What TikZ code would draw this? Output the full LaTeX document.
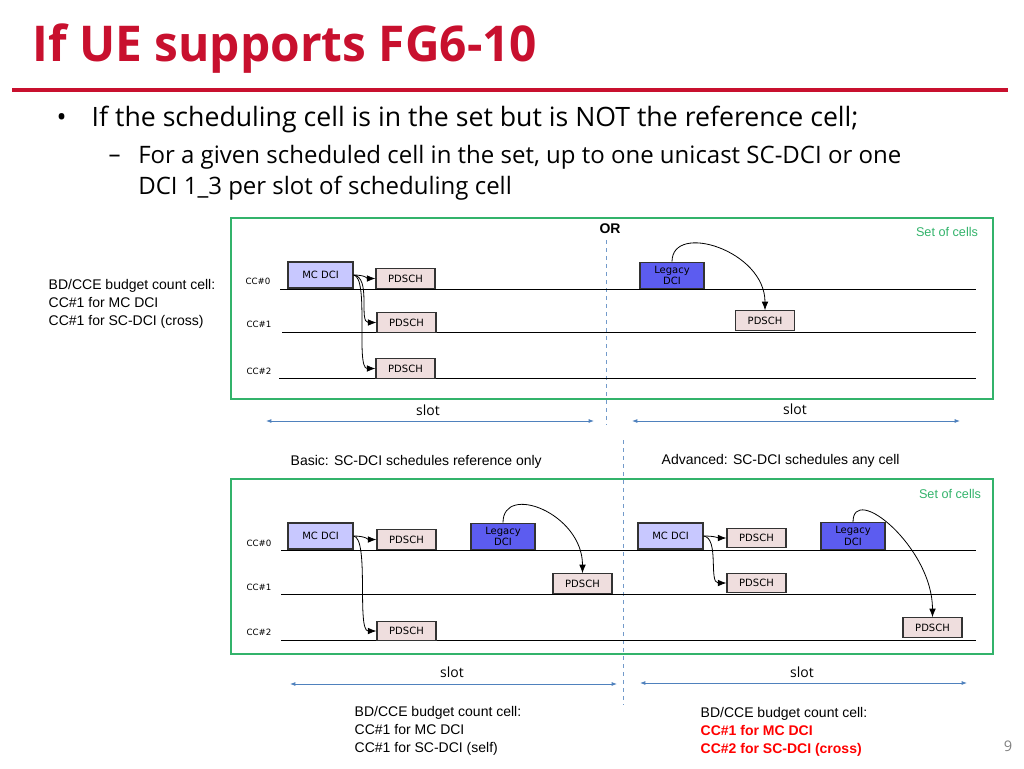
\documentclass[tikz,border=0pt]{standalone}
\usepackage{fontspec}
\setmainfont{Open Sans}
\newfontfamily\arialf{Liberation Sans}
\newfontfamily\verd{DejaVu Sans}
\usetikzlibrary{arrows.meta}
\definecolor{titred}{HTML}{C8102E}
\definecolor{grn}{HTML}{33B36B}
\definecolor{slotb}{HTML}{4F81BD}
\definecolor{mcc}{HTML}{C8C8FF}
\definecolor{legc}{HTML}{5C5CF0}
\definecolor{pdc}{HTML}{EFDEDE}
\tikzset{
 box/.style={draw=black!80,line width=0.8pt,inner sep=0pt,font=\verd\fontsize{7.5}{8.5}\selectfont,align=center},
 mc/.style={box,fill=mcc,minimum width=48.75pt,minimum height=19.5pt},
 leg/.style={box,fill=legc,minimum width=48pt,minimum height=20pt},
 pd/.style={box,fill=pdc,minimum width=44.25pt,minimum height=14.5pt},
 cc/.style={font=\verd\fontsize{6.5}{7}\selectfont},
 tl/.style={line width=0.6pt},
 arr/.style={-{Latex[length=6.5pt,width=5pt]},line width=0.6pt},
 slota/.style={{Latex[length=4pt,width=3pt]}-{Latex[length=4pt,width=3pt]},slotb,line width=0.7pt},
 lbl/.style={font=\arialf\fontsize{10.5}{12.5}\selectfont,anchor=west},
 setc/.style={grn,line width=1pt},
 dsh/.style={slotb!80,dashed,line width=0.7pt}
}
\begin{document}
\begin{tikzpicture}[x=0.75pt,y=-0.75pt]
\useasboundingbox (0,0) rectangle (1024,768);
\node[anchor=west,titred,font=\fontsize{37}{40}\bfseries\selectfont,xscale=0.97] (title) at (28,49) {If UE supports FG6-10};
\draw[titred,line width=3pt] (12,90) -- (1008,90);
\node[anchor=west,font=\fontsize{20}{15}\selectfont] (b1) at (52,120) {\textbullet};
\node[anchor=west,font=\fontsize{20}{24}\selectfont] (t1) at (87,119) {If the scheduling cell is in the set but is NOT the reference cell;};
\node[anchor=west,font=\fontsize{18}{22}\selectfont] (d1) at (104,159) {--};
\node[anchor=north west,align=left,font=\fontsize{18}{23}\selectfont,inner sep=0pt] (t2) at (138,145) {For a given scheduled cell in the set, up to one unicast SC-DCI or one\\DCI 1\_3 per slot of scheduling cell};
% top panel
\draw[setc] (231,218) rectangle (993,399);
\node[grn,font=\arialf\fontsize{9.5}{11}\selectfont] (s1) at (947,232) {Set of cells};
\node[font=\arialf\bfseries\fontsize{10.5}{12}\selectfont] (or) at (610,229) {OR};
\draw[dsh] (606,240) -- (606,425);
\draw[tl] (280,289) -- (976,289);
\draw[tl] (282,332) -- (976,332);
\draw[tl] (279,378) -- (976,378);
\node[cc] (c0) at (258,281) {CC\#0};
\node[cc] (c1) at (259,324) {CC\#1};
\node[cc] (c2) at (259,371) {CC\#2};
\node[mc] (m1) at (320.5,275) {MC DCI};
\node[pd] (p10) at (405.5,278.5) {PDSCH};
\node[pd] (p11) at (406.5,322.5) {PDSCH};
\node[pd] (p12) at (405.5,368.5) {PDSCH};
\node[leg] (l1) at (672,275.5) {Legacy\\DCI};
\node[pd] (p13) at (765,320.5) {PDSCH};
\draw[arr] (m1.east) .. controls +(12,0) and +(-8,0) .. (p10.west);
\draw[arr] (m1.east) .. controls +(18,2) and +(-18,0) .. (p11.west);
\draw[arr] (m1.east) .. controls +(16,2) and +(-20,0) .. (p12.west);
\draw[arr] (l1.north) .. controls +(0,-40) and +(0,-60) .. (p13.north);
\node[lbl,align=left,anchor=north west,font=\arialf\fontsize{10.5}{13.3}\selectfont] (bl1) at (44,275) {BD/CCE budget count cell:\\CC\#1 for MC DCI\\CC\#1 for SC-DCI (cross)};
\coordinate (sa1) at (266,421); \coordinate (sb1) at (594,421);
\coordinate (sa2) at (632,421); \coordinate (sb2) at (960,421);
\draw[slota] (sa1) -- (sb1); \draw[slota] (sa2) -- (sb2);
\node[font=\fontsize{10.5}{12}\selectfont] (sl1) at (428,410) {slot};
\node[font=\fontsize{10.5}{12}\selectfont] (sl2) at (795,409) {slot};
% bottom
\node[lbl] (basic) at (286,462) {Basic: SC-DCI schedules reference only};
\node[lbl] (adv) at (657,461) {Advanced: SC-DCI schedules any cell};
\draw[dsh] (623,440) -- (623,705);
\draw[setc] (231,479) rectangle (993,654);
\node[grn,font=\arialf\fontsize{9.5}{11}\selectfont] (s2) at (950,494) {Set of cells};
\draw[tl] (281,550) -- (976,550);
\draw[tl] (281,594) -- (976,594);
\draw[tl] (281,640) -- (976,640);
\node[cc] (d0) at (259,543) {CC\#0};
\node[cc] (d1c) at (259,587) {CC\#1};
\node[cc] (d2) at (259,632) {CC\#2};
\node[mc] (m2) at (320.5,536) {MC DCI};
\node[pd] (q0) at (406.5,539.5) {PDSCH};
\node[pd] (q2) at (406.5,631) {PDSCH};
\node[leg] (l2) at (503,536.5) {Legacy\\DCI};
\node[pd] (q1) at (582.5,583.5) {PDSCH};
\draw[arr] (m2.east) .. controls +(12,0) and +(-8,0) .. (q0.west);
\draw[arr] (m2.east) .. controls +(16,2) and +(-20,0) .. (q2.west);
\draw[arr] (l2.north) .. controls +(0,-40) and +(0,-60) .. (q1.north);
\node[mc] (m3) at (670.5,536) {MC DCI};
\node[pd] (r0) at (756.5,538) {PDSCH};
\node[pd] (r1) at (756.5,583) {PDSCH};
\node[leg] (l3) at (853,536) {Legacy\\DCI};
\node[pd] (r2) at (932.5,627.5) {PDSCH};
\draw[arr] (m3.east) .. controls +(12,0) and +(-8,0) .. (r0.west);
\draw[arr] (m3.east) .. controls +(16,2) and +(-18,0) .. (r1.west);
\draw[arr] (l3.north) .. controls +(0,-40) and +(0,-70) .. (r2.north);
\coordinate (ta1) at (290,684); \coordinate (tb1) at (617,684);
\coordinate (ta2) at (640,683); \coordinate (tb2) at (967,683);
\draw[slota] (ta1) -- (tb1); \draw[slota] (ta2) -- (tb2);
\node[font=\fontsize{10.5}{12}\selectfont] (sl3) at (452,672) {slot};
\node[font=\fontsize{10.5}{12}\selectfont] (sl4) at (802,672) {slot};
\node[lbl,align=left,anchor=north west,font=\arialf\fontsize{10.5}{13.3}\selectfont] (bl2) at (350,702) {BD/CCE budget count cell:\\CC\#1 for MC DCI\\CC\#1 for SC-DCI (self)};
\node[lbl,align=left,anchor=north west,font=\arialf\fontsize{10.5}{13.3}\selectfont] (bl3) at (696,703) {BD/CCE budget count cell:\\\textcolor{red}{\bfseries CC\#1 for MC DCI}\\\textcolor{red}{\bfseries CC\#2 for SC-DCI (cross)}};
\node[gray,font=\fontsize{11}{12}\selectfont] (pg) at (1008,746) {9};
\end{tikzpicture}
\end{document}
